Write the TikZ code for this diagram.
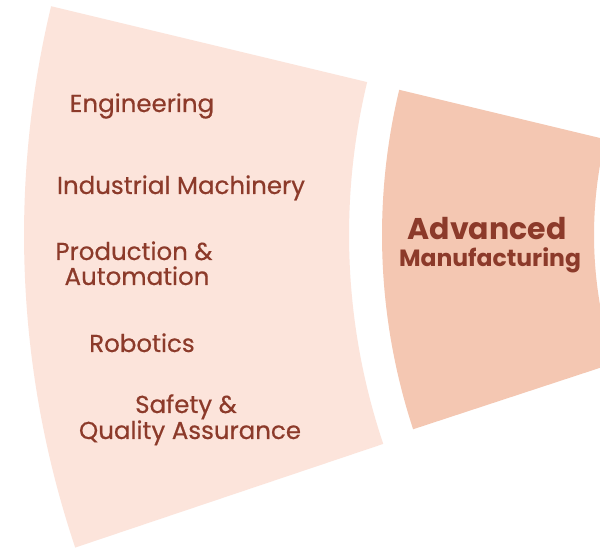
\documentclass[tikz,border=0pt]{standalone}
\usepackage{fontspec}
\setmainfont{Poppins}
\newfontfamily\pmed{Poppins}[FakeBold=0.5]
\usetikzlibrary{calc}
\definecolor{leftfill}{RGB}{252,228,219}
\definecolor{rightfill}{RGB}{244,199,178}
\definecolor{txt}{RGB}{140,58,42}
\tikzset{
  item/.style={anchor=base, text=txt, inner sep=0pt, font=\pmed\fontsize{24.5}{28}\selectfont},
  bigtitle/.style={anchor=base, text=txt, inner sep=0pt, font=\fontsize{30}{34}\selectfont\bfseries},
  subtitle/.style={anchor=base, text=txt, inner sep=0pt, font=\fontsize{23.5}{28}\selectfont\bfseries},
}
\begin{document}
\begin{tikzpicture}[x=1pt,y=1pt]
\useasboundingbox (0,0) rectangle (600,551);
\fill[white] (0,0) rectangle (600,551);
\coordinate (C) at (1004,316);
% left sector
\fill[leftfill] ($(C)+(166.5:980)$) arc[start angle=166.5, end angle=198.6, radius=980]
  -- ($(C)+(198.6:655)$) arc[start angle=198.6, end angle=166.5, radius=655] -- cycle;
% right sector
\begin{scope}
\clip (0,0) rectangle (600,551);
\fill[rightfill] ($(C)+(166.5:622)$) arc[start angle=166.5, end angle=198.2, radius=622]
  -- ($(C)+(198.2:410)$) arc[start angle=198.2, end angle=166.5, radius=410] -- cycle;
\end{scope}
% texts
\node[item] (eng) at (142,439) {Engineering};
\node[item] (ind) at (181,357) {Industrial Machinery};
\node[item] (prod1) at (134,291) {Production \&};
\node[item] (prod2) at (137,266) {Automation};
\node[item] (rob) at (142,199) {Robotics};
\node[item] (saf1) at (186,138) {Safety \&};
\node[item] (saf2) at (190,112) {Quality Assurance};
\node[bigtitle] (adv) at (487,311) {Advanced};
\node[subtitle] (man) at (490,284) {Manufacturing};
\end{tikzpicture}
\end{document}
